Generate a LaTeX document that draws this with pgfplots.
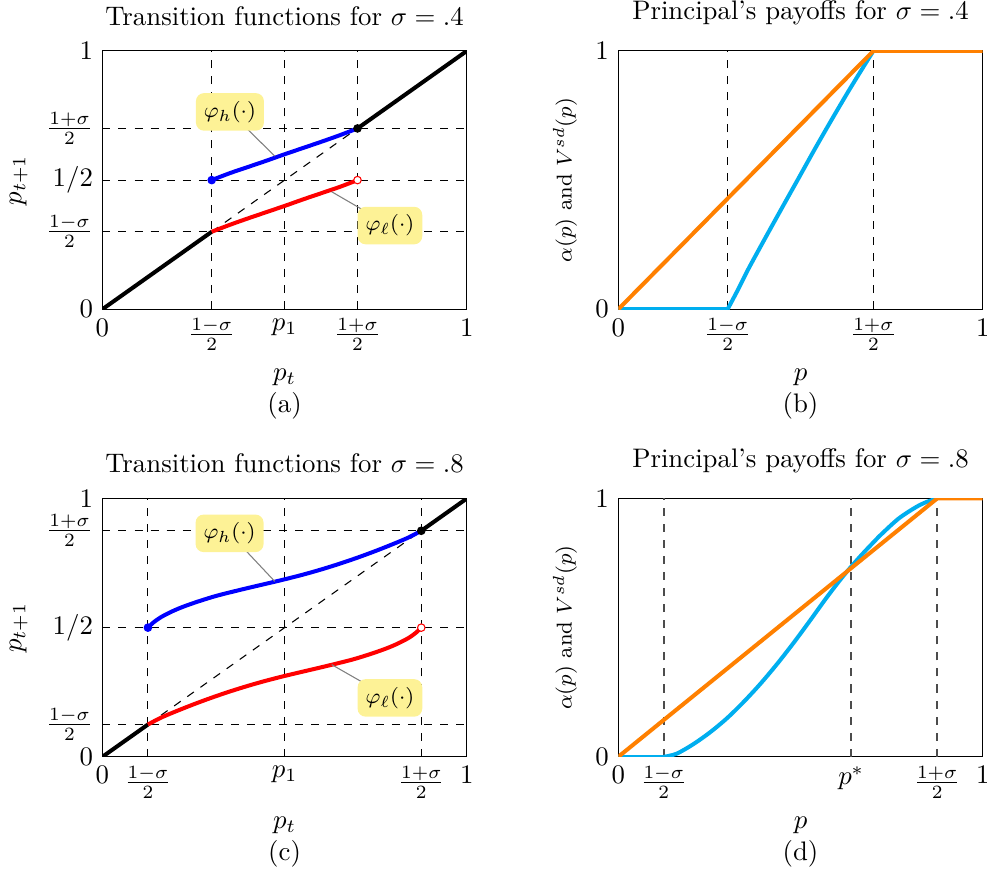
\documentclass[border=0pt]{standalone}
\usepackage{pgfplots}
\pgfplotsset{compat=1.18}
\definecolor{cyanline}{RGB}{0,174,239}
\definecolor{orangeline}{RGB}{255,128,0}
\definecolor{pinbox}{RGB}{253,242,150}

\pgfplotsset{
  panel/.style={
    scale only axis, width=136pt, height=96.4pt,
    xmin=0, xmax=1, ymin=0, ymax=1,
    tick style={draw=none},
    xlabel style={align=center},
  },
}
\tikzset{
  grid line/.style={thin, dashed, black},
  curve/.style={line width=1.5pt},
  lbl/.style={fill=pinbox, rounded corners=3pt, inner sep=3pt, font=\footnotesize},
  pin line/.style={gray, thin},
}

\begin{document}
\begin{tikzpicture}

% (a) transition functions, sigma = .4
\begin{axis}[panel, name=a, at={(0,0)},
  title={Transition functions for $\sigma = .4$},
  xtick={0,0.3,0.5,0.7,1},
  xticklabels={$0$,$\frac{1-\sigma}{2}$,$p_1$,$\frac{1+\sigma}{2}$,$1$},
  ytick={0,0.3,0.5,0.7,1},
  yticklabels={$0$,$\frac{1-\sigma}{2}$,$1/2$,$\frac{1+\sigma}{2}$,$1$},
  xlabel={$p_t$\\(a)}, ylabel={$p_{t+1}$}]
  \addplot[grid line] coordinates {(0.3,0) (0.3,1)};
  \addplot[grid line] coordinates {(0.5,0) (0.5,1)};
  \addplot[grid line] coordinates {(0.7,0) (0.7,1)};
  \addplot[grid line] coordinates {(0,0.3) (1,0.3)};
  \addplot[grid line] coordinates {(0,0.5) (1,0.5)};
  \addplot[grid line] coordinates {(0,0.7) (1,0.7)};
  \addplot[thin, dashed] coordinates {(0.3,0.3) (0.7,0.7)};
  \addplot[curve, black] coordinates {(0,0) (0.3,0.3)};
  \addplot[curve, black] coordinates {(0.7,0.7) (1,1)};
  \addplot[curve, blue, smooth] coordinates {
    (0.30,0.500) (0.35,0.527) (0.40,0.551) (0.45,0.575) (0.50,0.600)
    (0.55,0.624) (0.60,0.648) (0.65,0.673) (0.70,0.700)};
  \addplot[curve, red, smooth] coordinates {
    (0.30,0.300) (0.35,0.327) (0.40,0.352) (0.45,0.376) (0.50,0.400)
    (0.55,0.425) (0.60,0.449) (0.65,0.473) (0.70,0.500)};
  \addplot[only marks, mark=*, mark size=1.4pt, blue] coordinates {(0.3,0.5)};
  \addplot[only marks, mark=*, mark size=1.4pt, black] coordinates {(0.7,0.7)};
  \addplot[only marks, mark=*, mark size=1.4pt, red, fill=white] coordinates {(0.7,0.5)};
  \draw[pin line] (axis cs:0.35,0.764) -- (axis cs:0.473,0.593);
  \draw[pin line] (axis cs:0.789,0.324) -- (axis cs:0.629,0.455);
  \node[lbl] at (axis cs:0.35,0.764) {$\varphi_h(\cdot)$};
  \node[lbl] at (axis cs:0.789,0.324) {$\varphi_\ell(\cdot)$};
\end{axis}

% (b) principal's payoffs, sigma = .4
\begin{axis}[panel, name=b, at={(192.5pt,0)},
  title={Principal's payoffs for $\sigma = .4$},
  xtick={0,0.3,0.7,1},
  xticklabels={$0$,$\frac{1-\sigma}{2}$,$\frac{1+\sigma}{2}$,$1$},
  ytick={0,1},
  xlabel={$p$\\(b)}, ylabel={$\alpha(p)$ and $V^{sd}(p)$},
  ylabel style={font=\footnotesize}]
  \addplot[grid line] coordinates {(0.3,0) (0.3,1)};
  \addplot[grid line] coordinates {(0.7,0) (0.7,1)};
  \addplot[curve, cyanline] coordinates {(0,0) (0.300,0)};
  \addplot[curve, cyanline, smooth] coordinates {
    (0.300,0) (0.330,0.080) (0.357,0.156) (0.403,0.275) (0.449,0.392)
    (0.495,0.508) (0.540,0.622) (0.586,0.735) (0.632,0.845) (0.669,0.930)
    (0.700,1)};
  \addplot[curve, orangeline] coordinates {(0,0) (0.7,1) (1,1)};
\end{axis}

% (c) transition functions, sigma = .8
\begin{axis}[panel, name=c, at={(0,-167pt)},
  title={Transition functions for $\sigma = .8$},
  xtick={0,0.125,0.5,0.875,1},
  xticklabels={$0$,$\frac{1-\sigma}{2}$,$p_1$,$\frac{1+\sigma}{2}$,$1$},
  ytick={0,0.125,0.5,0.875,1},
  yticklabels={$0$,$\frac{1-\sigma}{2}$,$1/2$,$\frac{1+\sigma}{2}$,$1$},
  xlabel={$p_t$\\(c)}, ylabel={$p_{t+1}$}]
  \addplot[grid line] coordinates {(0.125,0) (0.125,1)};
  \addplot[grid line] coordinates {(0.5,0) (0.5,1)};
  \addplot[grid line] coordinates {(0.875,0) (0.875,1)};
  \addplot[grid line] coordinates {(0,0.125) (1,0.125)};
  \addplot[grid line] coordinates {(0,0.5) (1,0.5)};
  \addplot[grid line] coordinates {(0,0.875) (1,0.875)};
  \addplot[thin, dashed] coordinates {(0.125,0.125) (0.875,0.875)};
  \addplot[curve, black] coordinates {(0,0) (0.125,0.125)};
  \addplot[curve, black] coordinates {(0.875,0.875) (1,1)};
  \addplot[curve, blue, smooth] coordinates {
    (0.125,0.500) (0.140,0.520) (0.160,0.540) (0.190,0.562) (0.220,0.580)
    (0.260,0.600) (0.310,0.622) (0.360,0.640) (0.410,0.657) (0.460,0.6735)
    (0.500,0.687) (0.550,0.705) (0.600,0.725) (0.650,0.747) (0.700,0.771)
    (0.750,0.797) (0.800,0.825) (0.840,0.849) (0.875,0.875)};
  \addplot[curve, red, smooth] coordinates {
    (0.125,0.125) (0.160,0.151) (0.200,0.175) (0.250,0.203) (0.300,0.229)
    (0.350,0.253) (0.400,0.275) (0.450,0.295) (0.500,0.313) (0.540,0.3265)
    (0.590,0.343) (0.640,0.360) (0.690,0.378) (0.740,0.400) (0.780,0.420)
    (0.810,0.438) (0.840,0.460) (0.860,0.480) (0.875,0.500)};
  \addplot[only marks, mark=*, mark size=1.4pt, blue] coordinates {(0.125,0.5)};
  \addplot[only marks, mark=*, mark size=1.4pt, black] coordinates {(0.875,0.875)};
  \addplot[only marks, mark=*, mark size=1.4pt, red, fill=white] coordinates {(0.875,0.5)};
  \draw[pin line] (axis cs:0.349,0.865) -- (axis cs:0.473,0.679);
  \draw[pin line] (axis cs:0.789,0.228) -- (axis cs:0.629,0.357);
  \node[lbl] at (axis cs:0.349,0.865) {$\varphi_h(\cdot)$};
  \node[lbl] at (axis cs:0.789,0.228) {$\varphi_\ell(\cdot)$};
\end{axis}

% (d) principal's payoffs, sigma = .8
\begin{axis}[panel, name=d, at={(192.5pt,-167pt)},
  title={Principal's payoffs for $\sigma = .8$},
  xtick={0,0.125,0.639,0.875,1},
  xticklabels={$0$,$\frac{1-\sigma}{2}$,$p^*$,$\frac{1+\sigma}{2}$,$1$},
  ytick={0,1},
  xlabel={$p$\\(d)}, ylabel={$\alpha(p)$ and $V^{sd}(p)$},
  ylabel style={font=\footnotesize}]
  \addplot[semithick, dashed, black!70] coordinates {(0.125,0) (0.125,1)};
  \addplot[semithick, dashed, black!70] coordinates {(0.639,0) (0.639,1)};
  \addplot[semithick, dashed, black!70] coordinates {(0.875,0) (0.875,1)};
  \addplot[curve, cyanline] coordinates {(0,0) (0.125,0)};
  \addplot[curve, cyanline, smooth] coordinates {
    (0.125,0) (0.160,0.012) (0.206,0.049) (0.252,0.095) (0.298,0.149)
    (0.343,0.211) (0.389,0.281) (0.435,0.358) (0.481,0.441) (0.527,0.529)
    (0.572,0.617) (0.618,0.701) (0.664,0.776) (0.700,0.830) (0.723,0.863)
    (0.769,0.922) (0.815,0.965) (0.845,0.986) (0.875,1)};
  \addplot[curve, orangeline] coordinates {(0,0) (0.875,1) (1,1)};
\end{axis}

\pgfresetboundingbox
\path[use as bounding box] (-38.2pt,-209.2pt) rectangle (330.1pt,115.4pt);
\end{tikzpicture}
\end{document}
